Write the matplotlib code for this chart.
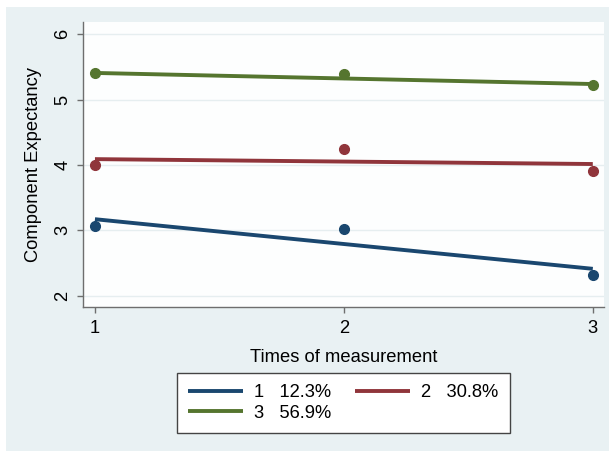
import matplotlib
matplotlib.use("Agg")
import matplotlib.pyplot as plt
from matplotlib.patches import Rectangle

# values
times = [1, 2, 3]
class_1 = [3.07, 3.02, 2.31]
class_2 = [4.00, 4.25, 3.91]
class_3 = [5.41, 5.395, 5.22]
# fitted lines, ends read at times 1 and 3
fit_times = [1, 3]
fit_1 = [3.17, 2.41]
fit_2 = [4.09, 4.015]
fit_3 = [5.41, 5.24]
class_names = ["1", "2", "3"]
class_shares = ["12.3%", "30.8%", "56.9%"]

colors = ["#1a476f", "#90353b", "#55752f"]
bg = "#e9f1f3"

plt.rcParams["font.family"] = ["Liberation Sans", "DejaVu Sans"]
plt.rcParams["font.size"] = 13.2

fig = plt.figure(figsize=(6.09, 4.51), dpi=100)
fig.patch.set_facecolor("white")
fig.patches.append(Rectangle((6 / 609, 0), 1 - 6 / 609, 1 - 7 / 451,
                             transform=fig.transFigure, facecolor=bg,
                             edgecolor="none", zorder=-10))

ax = fig.add_axes([83 / 609, 1 - 306.7 / 451, (604 - 83) / 609, (306.7 - 22) / 451])
ax.set_facecolor("#fdfefe")

handles = []
for ys, fit, c in zip([class_1, class_2, class_3], [fit_1, fit_2, fit_3], colors):
    ax.plot(times, ys, "o", color=c, markersize=7, zorder=3)
    h, = ax.plot(fit_times, fit, color=c, lw=2.8, zorder=4, solid_capstyle="butt")
    handles.append(h)

ax.set_xlim(0.952, 3.045)
ax.set_ylim(1.83, 6.19)
ax.set_xticks(times)
ax.set_yticks([2, 3, 4, 5, 6])
ax.yaxis.grid(True, color="#e6eef0", lw=1)
ax.set_axisbelow(True)

for s in ["top", "right"]:
    ax.spines[s].set_visible(False)
for s in ["left", "bottom"]:
    ax.spines[s].set_color("#6e6e6e")
    ax.spines[s].set_linewidth(1.0)
ax.tick_params(direction="out", length=4.5, width=1, color="#6e6e6e", pad=4)
ax.tick_params(axis="x", pad=5)
for lab in ax.get_yticklabels():
    lab.set_rotation(90)
    lab.set_va("center")

ax.set_xlabel("Times of measurement", labelpad=9)
ax.set_ylabel("Component Expectancy", labelpad=9)

labels = [f"{n}   {s}" for n, s in zip(class_names, class_shares)]
order = [0, 2, 1]
leg = fig.legend([handles[i] for i in order], [labels[i] for i in order],
                 ncol=2, loc="center", bbox_to_anchor=(343.5 / 609, 1 - 403 / 451),
                 frameon=True, fancybox=False, framealpha=1, edgecolor="#444444",
                 handlelength=3.0, handletextpad=0.6, columnspacing=1.3,
                 labelspacing=0.2, borderpad=0.6)
leg.get_frame().set_linewidth(1.0)

fig.savefig("out.png", dpi=100, facecolor=fig.get_facecolor())
